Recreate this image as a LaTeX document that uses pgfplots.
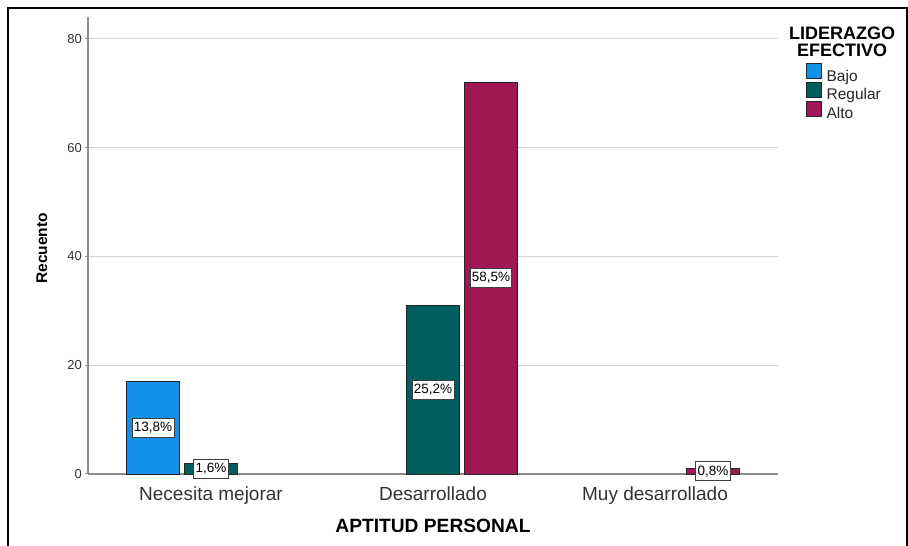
\documentclass[border=0pt]{standalone}
\usepackage{pgfplots}
\pgfplotsset{compat=1.18}
\usepackage{fontspec}
\setmainfont{Liberation Sans}
\definecolor{cBajo}{HTML}{1192E8}
\definecolor{cReg}{HTML}{005D5D}
\definecolor{cAlto}{HTML}{9F1853}
\definecolor{gridc}{HTML}{D4D4D4}
\definecolor{axc}{HTML}{8C8C8C}
\definecolor{txt}{HTML}{333333}
\begin{document}
\begin{tikzpicture}
\path[use as bounding box] (0pt,0pt) rectangle (908pt,546pt);
\draw[line width=2.2pt] (7.8pt,-2pt) -- (7.8pt,538.2pt) -- (906.8pt,538.2pt) -- (906.8pt,-2pt);
\begin{axis}[
 at={(88pt,72pt)}, anchor=south west,
 scale only axis, width=690pt, height=457pt,
 xmin=-0.554, xmax=2.554, ymin=0, ymax=84,
 ybar, bar width=0.239,
 axis x line*=bottom, axis y line*=left,
 axis line style={axc, line width=1.3pt, -},
 xtick={0,1,2}, xticklabels={Necesita mejorar, Desarrollado, Muy desarrollado},
 xtick style={draw=none},
 xticklabel style={font=\fontsize{19}{19}\selectfont, text=txt, anchor=base, yshift=-23.7pt},
 ytick={0,20,40,60,80},
 ymajorgrids, grid style={gridc, line width=1.2pt},
 tick align=outside, major tick length=3pt,
 ytick style={axc, line width=1pt},
 yticklabel style={font=\fontsize{13}{13}\selectfont, text=txt, anchor=east, inner sep=0pt, xshift=-3pt},
 /pgf/number format/assume math mode=true,
 xlabel={APTITUD PERSONAL}, ylabel={Recuento},
 xlabel style={font=\bfseries\fontsize{19.2}{19.2}\selectfont, at={(axis description cs:0.5,0)}, anchor=base, yshift=-58.3pt},
 ylabel style={font=\bfseries\fontsize{15.5}{15.5}\selectfont, at={(axis description cs:-0.0594,0.494)}, anchor=base},
 point meta=explicit symbolic,
 nodes near coords,
 visualization depends on={rawy \as \rawy},
 every node near coord/.append style={anchor=center, yshift={-2.7202*\rawy}, fill=white, draw=black!75, line width=0.8pt, inner xsep=1.8pt, inner ysep=4pt, font=\fontsize{13.5}{13.5}\selectfont, text=black},
 clip=false,
 legend cell align=left,
 legend style={draw=none, fill=none, at={(axis description cs:1.0406,0.899)}, anchor=north west, inner sep=0pt, row sep=-1pt, font=\fontsize{15.5}{15.5}\selectfont, text=black!85, nodes={inner sep=0.6pt}},
]
\addplot[fill=cBajo, draw=black!85, line width=0.8pt, bar shift=-0.261,
  legend image code/.code={\draw[fill=cBajo, draw=black!85, line width=0.8pt] (0pt,-2.5pt) rectangle (15pt,12.5pt); \path (19pt,0pt);}]
  coordinates {(0,17) [13,8\%]};
\addplot[fill=cReg, draw=black!85, line width=0.8pt, bar shift=0,
  legend image code/.code={\draw[fill=cReg, draw=black!85, line width=0.8pt] (0pt,-2.5pt) rectangle (15pt,12.5pt); \path (19pt,0pt);}]
  coordinates {(0,2) [1,6\%] (1,31) [25,2\%]};
\addplot[fill=cAlto, draw=black!85, line width=0.8pt, bar shift=0.261,
  legend image code/.code={\draw[fill=cAlto, draw=black!85, line width=0.8pt] (0pt,-2.5pt) rectangle (15pt,12.5pt); \path (19pt,0pt);}]
  coordinates {(1,72) [58,5\%] (2,1) [0,8\%]};
\legend{Bajo, Regular, Alto}
\end{axis}
\node[font=\bfseries\fontsize{18}{17}\selectfont, align=center, anchor=center, inner sep=0pt] at (842pt,504.5pt) {LIDERAZGO\\EFECTIVO};
\end{tikzpicture}
\end{document}
